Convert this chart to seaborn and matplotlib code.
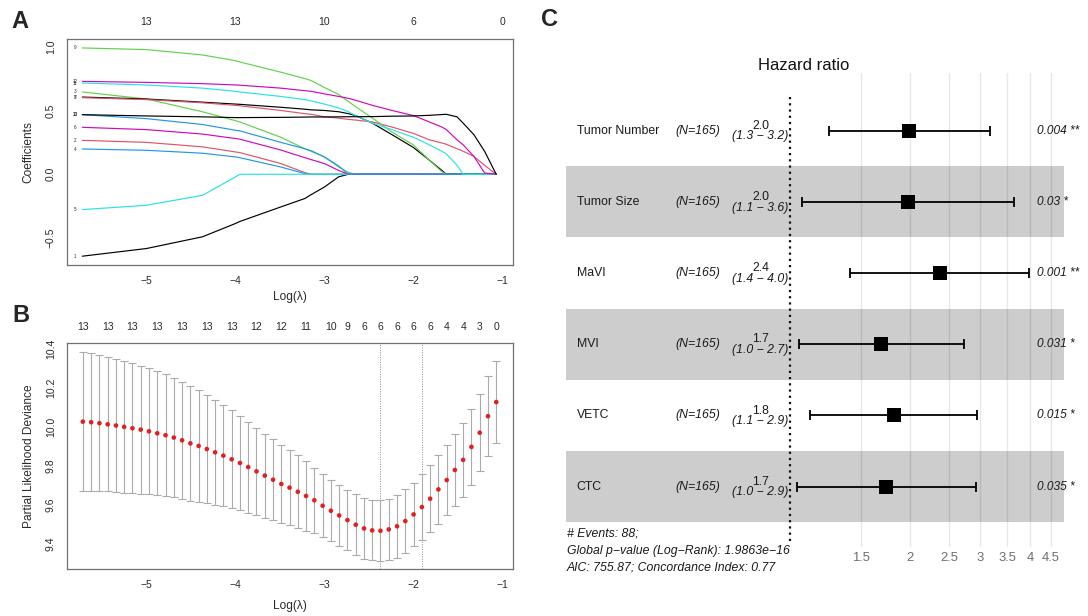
import numpy as np
import pandas as pd
import matplotlib
matplotlib.use("Agg")
import matplotlib.pyplot as plt
import matplotlib.transforms as mtransforms
from matplotlib.ticker import NullLocator, FixedLocator, FixedFormatter
import seaborn as sns

# ---------------- Panel A : LASSO coefficient paths ----------------
coef_loglam = [-5.72, -5.0, -4.37, -4.0, -3.95, -3.49, -3.22, -3.15, -3.0, -2.84, -2.73, -2.65,
               -2.46, -2.24, -2.0, -1.82, -1.68, -1.63, -1.51, -1.44, -1.32, -1.2, -1.07]
coef_v1 = [-0.642, -0.582, -0.49, -0.386, -0.37, -0.256, -0.19, -0.16, -0.10, -0.02, 0, 0,
           0, 0, 0, 0, 0, 0, 0, 0, 0, 0, 0]
coef_v2 = [0.266, 0.25, 0.215, 0.175, 0.17, 0.084, 0.013, 0, 0, 0, 0, 0,
           0, 0, 0, 0, 0, 0, 0, 0, 0, 0, 0]
coef_v3 = [0.645, 0.59, 0.49, 0.42, 0.41, 0.29, 0.20, 0.18, 0.136, 0.057, 0.015, 0,
           0, 0, 0, 0, 0, 0, 0, 0, 0, 0, 0]
coef_v4 = [0.198, 0.188, 0.165, 0.136, 0.13, 0.057, 0.005, 0, 0, 0, 0, 0,
           0, 0, 0, 0, 0, 0, 0, 0, 0, 0, 0]
coef_v5 = [-0.277, -0.243, -0.165, -0.021, 0, 0, 0, 0, 0, 0, 0, 0,
           0, 0, 0, 0, 0, 0, 0, 0, 0, 0, 0]
coef_v6 = [0.368, 0.35, 0.315, 0.28, 0.275, 0.19, 0.13, 0.115, 0.084, 0.03, 0, 0,
           0, 0, 0, 0, 0, 0, 0, 0, 0, 0, 0]
coef_v7 = [0.605, 0.59, 0.565, 0.55, 0.548, 0.525, 0.51, 0.505, 0.50, 0.49, 0.475, 0.46,
           0.40, 0.31, 0.21, 0.11, 0.03, 0, 0, 0, 0, 0, 0]
coef_v8 = [0.60, 0.585, 0.56, 0.54, 0.537, 0.50, 0.475, 0.47, 0.45, 0.44, 0.43, 0.425,
           0.41, 0.37, 0.32, 0.27, 0.245, 0.235, 0.2, 0.18, 0.14, 0.07, 0]
coef_v9 = [0.99, 0.977, 0.935, 0.89, 0.88, 0.80, 0.75, 0.735, 0.68, 0.625, 0.57, 0.53,
           0.44, 0.33, 0.23, 0.11, 0.02, 0, 0, 0, 0, 0, 0]
coef_v10 = [0.467, 0.436, 0.39, 0.345, 0.34, 0.25, 0.20, 0.185, 0.136, 0.065, 0, 0,
            0, 0, 0, 0, 0, 0, 0, 0, 0, 0, 0]
coef_v11 = [0.715, 0.70, 0.675, 0.65, 0.645, 0.61, 0.585, 0.575, 0.55, 0.52, 0.49, 0.46,
            0.40, 0.35, 0.29, 0.23, 0.18, 0.16, 0.07, 0, 0, 0, 0]
coef_v12 = [0.728, 0.72, 0.71, 0.70, 0.698, 0.675, 0.655, 0.65, 0.63, 0.61, 0.595, 0.58,
            0.54, 0.50, 0.46, 0.41, 0.37, 0.35, 0.27, 0.23, 0.14, 0.01, 0]
coef_v13 = [0.467, 0.457, 0.45, 0.444, 0.444, 0.446, 0.448, 0.449, 0.449, 0.45, 0.451, 0.451,
            0.452, 0.455, 0.457, 0.462, 0.468, 0.47, 0.45, 0.40, 0.31, 0.18, 0]
coef_paths = [coef_v1, coef_v2, coef_v3, coef_v4, coef_v5, coef_v6, coef_v7,
              coef_v8, coef_v9, coef_v10, coef_v11, coef_v12, coef_v13]
path_top_pos = [-5, -4, -3, -2, -1]
path_top_lab = ["13", "13", "10", "6", "0"]

# ---------------- Panel B : cross-validation deviance ----------------
cv_loglam = [-5.714, -5.621, -5.528, -5.435, -5.342, -5.250, -5.157, -5.064, -4.971, -4.878,
             -4.785, -4.692, -4.599, -4.506, -4.413, -4.321, -4.228, -4.135, -4.042, -3.949,
             -3.856, -3.763, -3.670, -3.577, -3.484, -3.392, -3.299, -3.206, -3.113, -3.020,
             -2.927, -2.834, -2.741, -2.648, -2.555, -2.463, -2.370, -2.277, -2.184, -2.091,
             -1.998, -1.905, -1.812, -1.719, -1.626, -1.534, -1.441, -1.348, -1.255, -1.162,
             -1.069]
cv_mean = [10.027, 10.024, 10.019, 10.013, 10.007, 10.000, 9.993, 9.986, 9.977, 9.967,
           9.957, 9.945, 9.931, 9.915, 9.902, 9.886, 9.869, 9.852, 9.833, 9.814,
           9.793, 9.771, 9.749, 9.728, 9.706, 9.687, 9.666, 9.644, 9.622, 9.594,
           9.568, 9.544, 9.520, 9.496, 9.477, 9.467, 9.465, 9.472, 9.488, 9.515,
           9.549, 9.587, 9.630, 9.678, 9.726, 9.778, 9.830, 9.897, 9.970, 10.055,
           10.128]
cv_sd = [0.357, 0.356, 0.351, 0.345, 0.342, 0.338, 0.335, 0.330, 0.325, 0.320,
         0.313, 0.308, 0.301, 0.296, 0.287, 0.278, 0.270, 0.259, 0.253, 0.244,
         0.234, 0.225, 0.216, 0.208, 0.199, 0.192, 0.187, 0.179, 0.168, 0.162,
         0.156, 0.155, 0.153, 0.156, 0.156, 0.155, 0.156, 0.158, 0.163, 0.163,
         0.163, 0.170, 0.174, 0.179, 0.182, 0.184, 0.191, 0.196, 0.199, 0.206,
         0.210]
cv_top_idx = [0, 3, 6, 9, 12, 15, 18, 21, 24, 27, 30, 32, 34, 36, 38, 40, 42, 44, 46, 48, 50]
cv_top_lab = ["13", "13", "13", "13", "13", "13", "13", "12", "12", "11", "10",
              "9", "6", "6", "6", "6", "6", "4", "4", "3", "0"]
cv_min_idx = 36
cv_1se_idx = 41

# ---------------- Panel C : forest plot ----------------
forest_vars = ["Tumor Number", "Tumor Size", "MaVI", "MVI", "VETC", "CTC"]
forest_n = ["(N=165)"] * 6
hr = [1.99, 1.97, 2.37, 1.69, 1.82, 1.74]
hr_low = [1.25, 1.07, 1.41, 1.05, 1.12, 1.04]
hr_high = [3.17, 3.65, 3.98, 2.73, 2.94, 2.92]
hr_text = ["2.0", "2.0", "2.4", "1.7", "1.8", "1.7"]
ci_text = ["(1.3 \u2212 3.2)", "(1.1 \u2212 3.6)", "(1.4 \u2212 4.0)",
           "(1.0 \u2212 2.7)", "(1.1 \u2212 2.9)", "(1.0 \u2212 2.9)"]
p_text = ["0.004 **", "0.03 *", "0.001 **", "0.031 *", "0.015 *", "0.035 *"]
forest_ticks = [1.5, 2, 2.5, 3, 3.5, 4, 4.5]
forest_tick_lab = ["1.5", "2", "2.5", "3", "3.5", "4", "4.5"]
forest_notes = ["# Events: 88; ",
                "Global p\u2212value (Log\u2212Rank): 1.9863e\u221216 ",
                "AIC: 755.87; Concordance Index: 0.77"]

# ---------------- styling ----------------
sns.set_theme(style="white")
plt.rcParams["font.family"] = ["Liberation Sans", "DejaVu Sans"]
plt.rcParams["axes.unicode_minus"] = True

W, H = 1088, 616
fig = plt.figure(figsize=(W / 100, H / 100), dpi=100)


def box(x0, y0, x1, y1):
    return [x0 / W, 1 - y1 / H, (x1 - x0) / W, (y1 - y0) / H]


def fpos(x, y):
    return x / W, 1 - y / H


SPINE = "#707070"
TXT = "#2a2a2a"


def r_style(ax):
    for s in ax.spines.values():
        s.set_visible(True)
        s.set_color(SPINE)
        s.set_linewidth(0.9)
    ax.tick_params(axis="both", direction="out", length=3.8, width=0.8, color=SPINE,
                   labelsize=7.5, labelcolor=TXT, pad=4.2)
    for lab in ax.get_yticklabels():
        lab.set_rotation(90)
        lab.set_va("center")
    ax.set_xlabel("")
    ax.set_ylabel("")


# ---- Panel A ----
axA = fig.add_axes(box(67, 39, 513, 265))
recs = []
for k, vals in enumerate(coef_paths, start=1):
    for x, y in zip(coef_loglam, vals):
        recs.append((str(k), x, y))
dfA = pd.DataFrame(recs, columns=["var", "loglam", "coef"])
r_cols = ["#000000", "#DF536B", "#61D04F", "#2297E6", "#28E2E5", "#CD0BBC"]
palA = {str(k): r_cols[(k - 1) % 6] for k in range(1, 14)}
sns.lineplot(data=dfA, x="loglam", y="coef", hue="var", palette=palA, estimator=None,
             sort=False, legend=False, linewidth=0.85, ax=axA)
for k, vals in enumerate(coef_paths, start=1):
    axA.text(-5.80, vals[0], str(k), fontsize=3.3, ha="center", va="center", color=TXT)
axA.set_xlim(-5.892, -0.881)
axA.set_ylim(-0.711, 1.06)
axA.set_xticks([-5, -4, -3, -2, -1])
axA.set_yticks([-0.5, 0.0, 0.5, 1.0])
axA.set_yticklabels(["\u22120.5", "0.0", "0.5", "1.0"])
r_style(axA)
trA = mtransforms.blended_transform_factory(axA.transData, axA.transAxes)
for p, lab in zip(path_top_pos, path_top_lab):
    axA.text(p, 1.075, lab, transform=trA, ha="center", va="center", fontsize=7.5, color=TXT)
fig.text(*fpos(290, 297), "Log(\u03bb)", ha="center", va="center", fontsize=8.6, color=TXT)
fig.text(*fpos(28.7, 152), "Coefficients", ha="center", va="center", rotation=90,
         fontsize=8.6, color=TXT)

# ---- Panel B ----
axB = fig.add_axes(box(67, 343, 513, 569))
dfB = pd.DataFrame({"loglam": cv_loglam, "dev": cv_mean, "sd": cv_sd})
axB.errorbar(dfB["loglam"], dfB["dev"], yerr=dfB["sd"], fmt="none", ecolor="#ababab",
             elinewidth=0.8, capsize=2.6, capthick=0.8, zorder=2)
sns.scatterplot(data=dfB, x="loglam", y="dev", color="#e02020", s=11, edgecolor="none",
                ax=axB, zorder=3)
for idx in (cv_min_idx, cv_1se_idx):
    axB.axvline(cv_loglam[idx], color="#8a8a8a", lw=0.7, ls=(0, (1, 1.5)), zorder=1)
axB.set_xlim(-5.892, -0.881)
axB.set_ylim(9.268, 10.432)
axB.set_xticks([-5, -4, -3, -2, -1])
axB.set_yticks([9.4, 9.6, 9.8, 10.0, 10.2, 10.4])
axB.set_yticklabels(["9.4", "9.6", "9.8", "10.0", "10.2", "10.4"])
r_style(axB)
trB = mtransforms.blended_transform_factory(axB.transData, axB.transAxes)
for idx, lab in zip(cv_top_idx, cv_top_lab):
    axB.text(cv_loglam[idx], 1.072, lab, transform=trB, ha="center", va="center",
             fontsize=7.5, color=TXT)
fig.text(*fpos(290, 606), "Log(\u03bb)", ha="center", va="center", fontsize=8.6, color=TXT)
fig.text(*fpos(28.7, 456), "Partial Likelihood Deviance", ha="center", va="center",
         rotation=90, fontsize=8.6, color=TXT)

# ---- Panel C ----
axC = fig.add_axes(box(566, 73, 1063.6, 547))
axC.set_xscale("log")
axC.set_xlim(0.2733, 4.851)
axC.set_ylim(5.847, -0.81)
rows = list(range(len(forest_vars)))
for k in rows:
    if k % 2 == 1:
        axC.axhspan(k - 0.5, k + 0.5, color="#cdcdcd", lw=0, zorder=0)
for t in forest_ticks:
    axC.axvline(t, color="black", alpha=0.09, lw=1.0, zorder=1)
axC.vlines(1, -0.473, 5.79, colors="#111111", linestyles=(0, (1, 1.8)), lw=1.6, zorder=2)
dfC = pd.DataFrame({"row": rows, "hr": hr, "lo": hr_low, "hi": hr_high})
axC.errorbar(dfC["hr"], dfC["row"], xerr=[dfC["hr"] - dfC["lo"], dfC["hi"] - dfC["hr"]],
             fmt="none", ecolor="black", elinewidth=1.3, capsize=3.9, capthick=1.3, zorder=3)
sns.scatterplot(data=dfC, x="hr", y="row", marker="s", s=100, color="black",
                edgecolor="black", linewidth=0, ax=axC, zorder=4)
axC.set_xlabel("")
axC.set_ylabel("")
axC.xaxis.set_major_locator(FixedLocator(forest_ticks))
axC.xaxis.set_major_formatter(FixedFormatter(forest_tick_lab))
axC.xaxis.set_minor_locator(NullLocator())
axC.set_yticks([])
axC.tick_params(axis="x", length=0, pad=3.6, labelsize=9.4, labelcolor="#6e6e6e")
for s in axC.spines.values():
    s.set_visible(False)
trC = mtransforms.blended_transform_factory(axC.transAxes, axC.transData)
for k in rows:
    axC.text(0.0215, k, forest_vars[k], transform=trC, ha="left", va="center",
             fontsize=8.8, color="#1a1a1a")
    axC.text(0.3109, k, forest_n[k], transform=trC, ha="right", va="center",
             fontsize=8.8, style="italic", color="#1a1a1a")
    axC.text(0.3909, k - 0.069, hr_text[k], transform=trC, ha="center", va="center",
             fontsize=8.8, color="#1a1a1a")
    axC.text(0.3909, k + 0.079, ci_text[k], transform=trC, ha="center", va="center",
             fontsize=8.8, style="italic", color="#1a1a1a")
    axC.text(0.9466, k, p_text[k], transform=trC, ha="left", va="center",
             fontsize=8.6, style="italic", color="#1a1a1a", clip_on=False)
fig.text(*fpos(804, 65), "Hazard ratio", ha="center", va="center", fontsize=12, color="#111111")
for yy, note in zip([533.3, 550.7, 567.7], forest_notes):
    fig.text(*fpos(567, yy), note, ha="left", va="center", fontsize=8.8, style="italic",
             color="#1a1a1a")

# ---- panel letters ----
fig.text(*fpos(19.5, 21.5), "A", ha="center", va="center", fontsize=17, fontweight="bold")
fig.text(*fpos(20.5, 316), "B", ha="center", va="center", fontsize=17, fontweight="bold")
fig.text(*fpos(549, 19), "C", ha="center", va="center", fontsize=17, fontweight="bold")

fig.savefig("out.png", dpi=100)
